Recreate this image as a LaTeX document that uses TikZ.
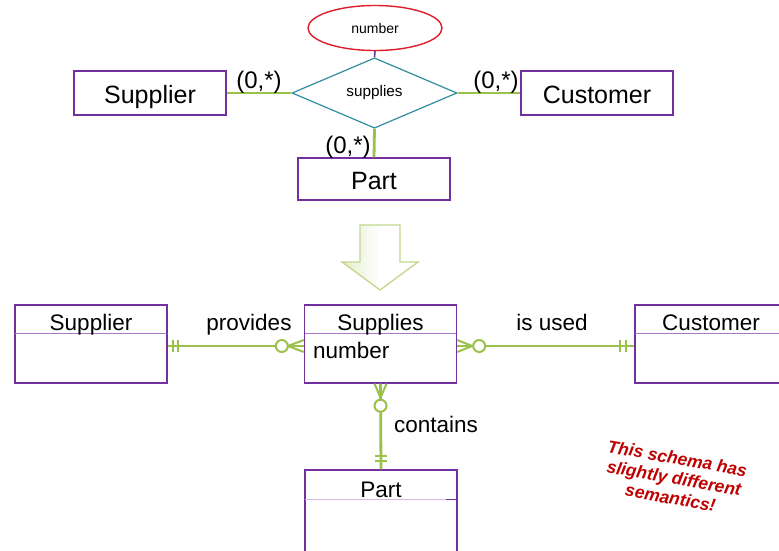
\documentclass[tikz,border=0pt]{standalone}
\usepackage{fontspec}
\setmainfont{Liberation Sans}
\usetikzlibrary{shapes.geometric,calc}
\definecolor{erpurple}{RGB}{112,48,160}
\definecolor{hdrpurple}{RGB}{170,120,200}
\definecolor{ergreen}{RGB}{155,193,74}
\definecolor{erteal}{RGB}{49,140,160}
\definecolor{erred}{RGB}{225,30,40}
\definecolor{notered}{RGB}{192,0,0}
\definecolor{arrowedge}{RGB}{195,215,140}
\tikzset{
  entbox/.style={draw=erpurple,line width=1.4pt,fill=white,minimum width=152pt,inner sep=0pt},
  big/.style={font=\fontsize{25}{30}\selectfont,anchor=base},
  mid/.style={font=\fontsize{22.5}{27}\selectfont,anchor=base,inner sep=0pt},
  card/.style={font=\fontsize{24}{28}\selectfont,anchor=base,inner sep=0pt},
  gline/.style={draw=ergreen,line width=2.8pt},
  gsym/.style={draw=ergreen,line width=2pt},
  hdr/.style={draw=hdrpurple,line width=1pt},
}
\begin{document}
\begin{tikzpicture}[x=1pt,y=-1pt]
\useasboundingbox (0,0) rectangle (779,550);
\fill[white] (0,0) rectangle (779,550);
% ---------- top ER diagram ----------
\node[entbox,minimum height=44pt] (sup1) at (150,93) {};
\node[entbox,minimum height=44pt] (cus1) at (597,93) {};
\node[entbox,minimum height=42pt] (part1) at (374,179) {};
\node[big,inner sep=0pt] (sup1t) at (150,103) {Supplier};
\node[big,inner sep=0pt] (cus1t) at (597,103) {Customer};
\node[big,inner sep=0pt] (part1t) at (374,189) {Part};
\node[diamond,draw=erteal,line width=1.2pt,fill=white,minimum width=165pt,minimum height=56pt,inner sep=0pt,font=\fontsize{15.3}{18}\selectfont] (rel) at (374.5,93) {supplies};
\node[ellipse,draw=erred,line width=1.4pt,fill=white,minimum width=134pt,minimum height=45pt,inner sep=0pt,font=\fontsize{14}{17}\selectfont] (attr) at (375,28) {number};
\draw[erpurple,line width=1.6pt] (attr.south) -- (rel.north);
\draw[gline] (sup1.east) -- (rel.west);
\draw[gline] (rel.east) -- (cus1.west);
\draw[gline] (rel.south) -- (part1.north);
\node[card] (c1) at (259,88) {(0,*)};
\node[card] (c2) at (496,88) {(0,*)};
\node[card] (c3) at (348,153) {(0,*)};
% ---------- big arrow ----------
\shade[left color=arrowedge!45,right color=white,middle color=white]
  (360,225) -- (400,225) -- (400,262) -- (418,262) -- (380,290) -- (342,262) -- (360,262) -- cycle;
\draw[arrowedge,line width=1.3pt,line join=miter]
  (360,225) -- (400,225) -- (400,262) -- (418,262) -- (380,290) -- (342,262) -- (360,262) -- cycle;
% ---------- bottom diagram ----------
\node[entbox,minimum height=78pt] (sup2) at (91,344) {};
\node[entbox,minimum height=78pt] (sups) at (380.5,344) {};
\node[entbox,minimum height=78pt] (cus2) at (711,344) {};
\node[entbox,minimum height=82pt] (part2) at (381,511) {};
\draw[hdr] (15,333) -- (167,333);
\draw[hdr] (305,333) -- (456,333);
\draw[hdr] (635,333) -- (779,333);
\draw[hdr,draw=hdrpurple!50] (305,499) -- (457,499);
\draw[erpurple,line width=1pt] (446,499) -- (457,499);
\node[mid] (t1) at (91,330) {Supplier};
\node[mid] (t2) at (380.5,330) {Supplies};
\node[mid] (t3) at (711,330) {Customer};
\node[mid] (t4) at (381,497) {Part};
\node[mid,anchor=base west] (num) at (313,358) {number};
% provides
\draw[gline] (sup2.east) ++(0,2) coordinate (pa) -- (pa -| sups.west) coordinate (pb);
\draw[gsym] ($(pa)+(5,-6)$) -- ++(0,12);
\draw[gsym] ($(pa)+(10,-6)$) -- ++(0,12);
\draw[gsym,fill=white] ($(pb)+(-22,0)$) circle (6);
\draw[gsym] ($(pb)+(-16,0)$) -- ($(pb)+(0,-6)$);
\draw[gsym] ($(pb)+(-16,0)$) -- ($(pb)+(0,6)$);
\node[mid] (lp) at (249,330) {provides};
% is used
\draw[gline] (sups.east) ++(0,2) coordinate (ua) -- (ua -| cus2.west) coordinate (ub);
\draw[gsym] ($(ua)+(15,0)$) -- ($(ua)+(0,-6)$);
\draw[gsym] ($(ua)+(15,0)$) -- ($(ua)+(0,6)$);
\draw[gsym,fill=white] ($(ua)+(22,0)$) circle (6);
\draw[gsym] ($(ub)+(-14,-6)$) -- ++(0,12);
\draw[gsym] ($(ub)+(-8,-6)$) -- ++(0,12);
\node[mid] (lu) at (552,330) {is used};
% contains
\draw[gline] (sups.south) -- (part2.north);
\draw[gsym] ($(sups.south)+(0,14)$) -- ($(sups.south)+(-6,0)$);
\draw[gsym] ($(sups.south)+(0,14)$) -- ($(sups.south)+(6,0)$);
\draw[gsym,fill=white] ($(sups.south)+(0,22)$) circle (6);
\draw[gsym] ($(part2.north)+(-6,-13)$) -- ++(12,0);
\draw[gsym] ($(part2.north)+(-6,-8)$) -- ++(12,0);
\node[mid,anchor=base west] (lc) at (394,432) {contains};
% note
\node[rotate=-10,text=notered,align=center,inner sep=0pt,font=\bfseries\itshape\fontsize{17.5}{20}\selectfont] (note) at (674,478) {This schema has\\slightly different\\semantics!};
\end{tikzpicture}
\end{document}
